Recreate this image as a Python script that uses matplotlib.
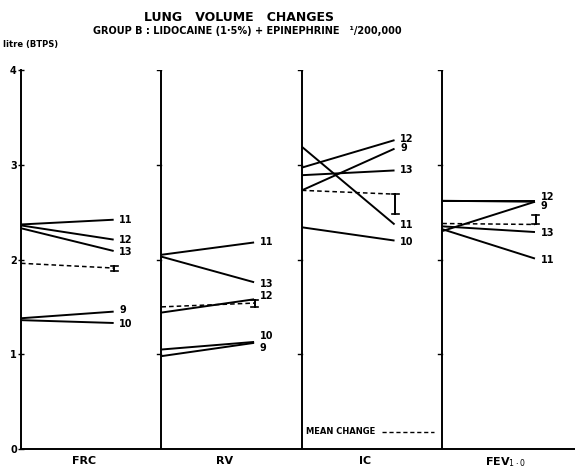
import matplotlib
matplotlib.use("Agg")
import matplotlib.pyplot as plt

# 数据：每个面板的个体起止值（litre BTPS）
panels = ["FRC", "RV", "IC", r"FEV$_{1\cdot0}$"]
subjects = ["9", "10", "11", "12", "13"]

start_vals = {
    "FRC": [1.38, 1.36, 2.37, 2.36, 2.33],
    "RV": [0.98, 1.05, 2.05, 1.44, 2.03],
    "IC": [2.73, 2.34, 3.19, 2.97, 2.89],
    "FEV": [2.30, 2.62, 2.32, 2.62, 2.35],
}
end_vals = {
    "FRC": [1.45, 1.33, 2.42, 2.21, 2.09],
    "RV": [1.12, 1.13, 2.18, 1.58, 1.76],
    "IC": [3.17, 2.20, 2.37, 3.26, 2.94],
    "FEV": [2.61, 2.61, 2.01, 2.62, 2.29],
}
# 平均变化（虚线）与误差范围
mean_start = [1.96, 1.50, 2.73, 2.38]
mean_end = [1.91, 1.54, 2.69, 2.37]
err_lo = [1.88, 1.50, 2.48, 2.37]
err_hi = [1.93, 1.57, 2.69, 2.47]

# 标签位置（None 表示原图中没有标出，FEV 的 10 与 12 重合）
label_y = {
    "FRC": [1.47, 1.32, 2.42, 2.21, 2.08],
    "RV": [1.07, 1.19, 2.18, 1.62, 1.74],
    "IC": [3.18, 2.19, 2.36, 3.27, 2.94],
    "FEV": [2.56, None, 2.00, 2.66, 2.28],
}
keys = ["FRC", "RV", "IC", "FEV"]

fig = plt.figure(figsize=(5.75, 4.7), dpi=100)
ax = fig.add_axes([0.0365, 0.0447, 0.9635, 0.8063])
ax.set_xlim(0, 3.945)
ax.set_ylim(0, 4)

font = dict(family="DejaVu Sans", weight="bold", color="black")
x0, x1 = 0.0, 0.66

for i, k in enumerate(keys):
    for j, s in enumerate(subjects):
        ax.plot([i + x0, i + x1], [start_vals[k][j], end_vals[k][j]],
                color="black", lw=1.4, solid_capstyle="butt")
        if label_y[k][j] is not None:
            ax.text(i + x1 + 0.04, label_y[k][j], s, fontsize=7, va="center", **font)
    # 平均变化虚线
    ax.plot([i + x0, i + x1], [mean_start[i], mean_end[i]],
            color="black", lw=1.1, ls=(0, (3, 2)))
    ex = i + x1 + 0.005
    ax.plot([ex, ex], [err_lo[i], err_hi[i]], color="black", lw=1.4)
    for yy in (err_lo[i], err_hi[i]):
        ax.plot([ex - 0.025, ex + 0.025], [yy, yy], color="black", lw=1.2)
    # 面板分隔线及小刻度
    if i > 0:
        ax.plot([i, i], [0, 4], color="black", lw=1.4)
        for t in (1, 2, 3, 4):
            ax.plot([i - 0.03, i], [t, t], color="black", lw=1.0)
    ax.text(i + 0.45, -0.07, panels[i], fontsize=8, ha="center", va="top", **font)

# 坐标轴样式
for side in ("top", "right"):
    ax.spines[side].set_visible(False)
ax.spines["left"].set_linewidth(1.4)
ax.spines["bottom"].set_linewidth(1.4)
ax.set_xticks([])
ax.set_yticks([0, 1, 2, 3, 4])
ax.set_yticklabels(["0", "1", "2", "3", "4"], fontsize=7, fontweight="bold")
ax.tick_params(axis="y", direction="inout", length=4, width=1, pad=1)

# 图例说明
ax.text(2.03, 0.18, "MEAN CHANGE", fontsize=6, va="center", **font)
ax.plot([2.57, 2.94], [0.18, 0.18], color="black", lw=1.0, ls=(0, (3, 2)))

fig.text(0.005, 0.905, "litre (BTPS)", fontsize=6, va="center", **font)
fig.text(0.415, 0.962, "LUNG   VOLUME   CHANGES", fontsize=9, ha="center", va="center", **font)
fig.text(0.43, 0.935, "GROUP B : LIDOCAINE (1·5%) + EPINEPHRINE   ¹/200,000",
         fontsize=7, ha="center", va="center", **font)

fig.savefig("out.png", dpi=100)
plt.close(fig)
